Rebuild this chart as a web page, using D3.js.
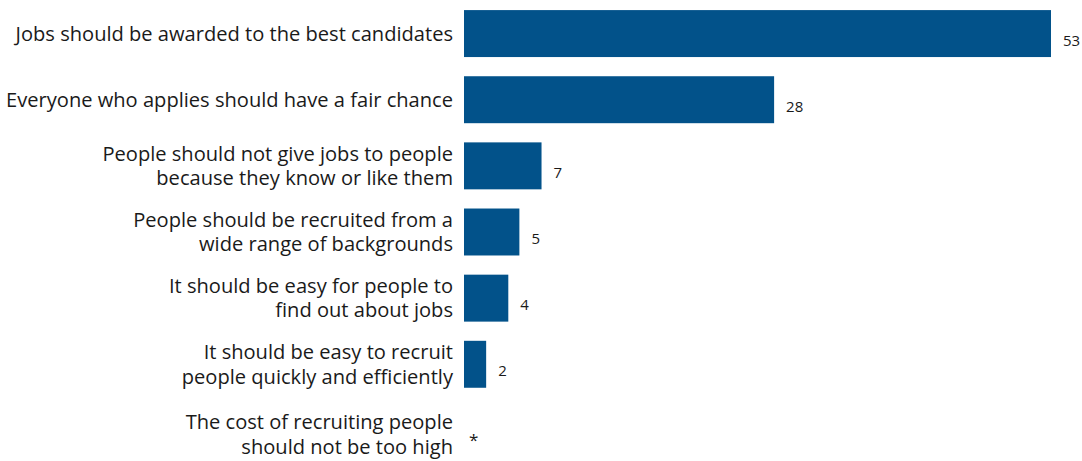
<!DOCTYPE html>
<html>
<head>
<meta charset="utf-8">
<script src="https://cdn.jsdelivr.net/npm/d3@7"></script>
<style>
  html, body { margin: 0; padding: 0; background: #fff; }
  svg { display: block; }
</style>
</head>
<body>
<svg id="chart" width="1082" height="461"></svg>
<script>
// Statements about recruitment, each label split over its display lines
const categories = [
  ["Jobs should be awarded to the best candidates"],
  ["Everyone who applies should have a fair chance"],
  ["People should not give jobs to people", "because they know or like them"],
  ["People should be recruited from a", "wide range of backgrounds"],
  ["It should be easy for people to", "find out about jobs"],
  ["It should be easy to recruit", "people quickly and efficiently"],
  ["The cost of recruiting people", "should not be too high"]
];
// Percentages (0 stands for a value below 0.5%, shown as *)
const values = [53, 28, 7, 5, 4, 2, 0];
const valueLabels = ["53", "28", "7", "5", "4", "2", "*"];

const svg = d3.select("#chart");
const barLeft = 464;
const font = "'Open Sans', 'Noto Sans', sans-serif";

const x = d3.scaleLinear().domain([0, 53]).range([barLeft, 1051]);
const y = d3.scaleBand()
  .domain(d3.range(categories.length))
  .range([0.5, 463.5])
  .paddingInner(0.29)
  .paddingOuter(0.145);

const rows = svg.selectAll("g.row")
  .data(values.map((v, i) => ({ v, i, lines: categories[i], label: valueLabels[i] })))
  .join("g")
  .attr("class", "row");

rows.filter(d => d.v > 0).append("rect")
  .attr("x", x(0))
  .attr("y", d => y(d.i))
  .attr("width", d => x(d.v) - x(0))
  .attr("height", y.bandwidth())
  .attr("fill", "#02528a");

// Category labels, right-aligned against the bars
const lineH = 24.5;
rows.append("text")
  .attr("text-anchor", "end")
  .attr("font-family", font)
  .attr("font-size", 20.1)
  .attr("fill", "#1a1a1a")
  .each(function (d) {
    const cy = y(d.i) + y.bandwidth() / 2 + (d.v > 0 ? 0 : 4);
    const n = d.lines.length;
    const t = d3.select(this);
    d.lines.forEach((ln, k) => {
      t.append("tspan")
        .attr("x", barLeft - 11)
        .attr("y", cy + (k - (n - 1) / 2) * lineH)
        .attr("dy", "0.35em")
        .text(ln);
    });
  });

// Value labels at the end of each bar
rows.append("text")
  .attr("x", d => x(d.v) + (d.v > 0 ? 12 : 5))
  .attr("y", d => y(d.i) + y.bandwidth() / 2 + (d.v > 0 ? 12 : 16))
  .attr("font-family", font)
  .attr("font-size", d => d.v > 0 ? 15 : 17)
  .attr("fill", "#1a1a1a")
  .text(d => d.label);
</script>
</body>
</html>
